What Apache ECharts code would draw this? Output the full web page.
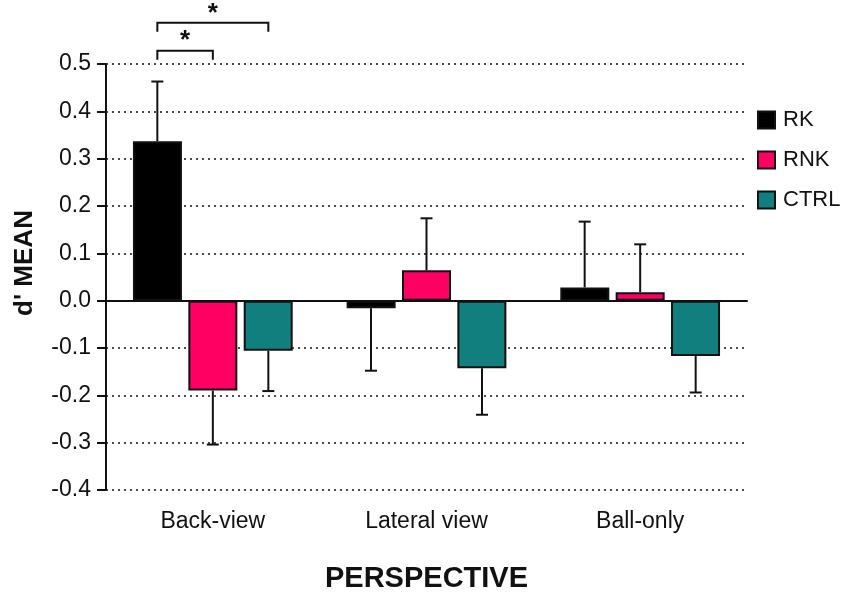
<!DOCTYPE html>
<html>
<head>
<meta charset="utf-8">
<script src="https://cdn.jsdelivr.net/npm/echarts@6/dist/echarts.min.js"></script>
<style>
  html, body { margin: 0; padding: 0; background: #fff; }
  #chart { width: 851px; height: 593px; }
</style>
</head>
<body>
<div id="chart"></div>
<script>
// perspectives on the x axis
const categories = ["Back-view", "Lateral view", "Ball-only"];

// group means (d') and SEM
const rkMean = [0.337, -0.016, 0.028];
const rkSem = [0.126, 0.132, 0.139];
const rnkMean = [-0.190, 0.064, 0.018];
const rnkSem = [0.114, 0.110, 0.101];
const ctrlMean = [-0.106, -0.143, -0.117];
const ctrlSem = [0.085, 0.098, 0.077];

// significance brackets: [category, from group, to group, foot value, top value, star value]
const brackets = [
  [0, 0, 1, 0.509, 0.528, 0.548],
  [0, 0, 2, 0.568, 0.587, 0.607],
];

const FONT = "'Liberation Sans', Arial, Helvetica, sans-serif";
const BAR_W = 49;
const STEP = 55.5; // distance between bar centers in a group
const offsets = [-STEP, 0, STEP];

function errorSeries(mean, sem, groupIdx) {
  return {
    type: "custom",
    name: "err" + groupIdx,
    z: 3,
    silent: true,
    clip: false,
    data: mean.map((m, i) => [i, m, m >= 0 ? m + sem[i] : m - sem[i]]),
    renderItem(params, api) {
      const base = api.coord([api.value(0), api.value(1)]);
      const end = api.coord([api.value(0), api.value(2)]);
      const x = base[0] + offsets[groupIdx];
      const st = { stroke: "#111", lineWidth: 2 };
      return {
        type: "group",
        children: [
          { type: "line", shape: { x1: x, y1: base[1], x2: x, y2: end[1] }, style: st },
          { type: "line", shape: { x1: x - 6, y1: end[1], x2: x + 6, y2: end[1] }, style: st },
        ],
      };
    },
  };
}

const chart = echarts.init(document.getElementById("chart"));

chart.setOption({
  backgroundColor: "#fff",
  animation: false,
  grid: { left: 106, right: 104, top: 64, bottom: 103, outerBoundsMode: "none", containLabel: false },
  legend: {
    data: ["RK", "RNK", "CTRL"],
    orient: "vertical",
    left: 757,
    top: 109,
    padding: 0,
    itemWidth: 17,
    itemHeight: 17,
    itemGap: 18,
    icon: "rect",
    textStyle: { fontFamily: FONT, fontSize: 22, color: "#111", padding: [0, 0, 0, 3] },
  },
  xAxis: {
    type: "category",
    data: categories,
    name: "PERSPECTIVE",
    nameLocation: "middle",
    nameGap: 74,
    nameTextStyle: { fontFamily: FONT, fontSize: 29, fontWeight: "bold", color: "#111" },
    axisLine: { lineStyle: { color: "#111", width: 2 } },
    axisTick: { alignWithLabel: true, length: 7, lineStyle: { color: "#111", width: 2 } },
    axisLabel: { fontFamily: FONT, fontSize: 23, color: "#111", margin: 20 },
  },
  yAxis: {
    type: "value",
    min: -0.4,
    max: 0.5,
    interval: 0.1,
    name: "d' MEAN",
    nameLocation: "middle",
    nameRotate: 90,
    nameGap: 68,
    nameTextStyle: { fontFamily: FONT, fontSize: 26, fontWeight: "bold", color: "#111", padding: [0, 0, 0, 28] },
    axisLine: { show: true, lineStyle: { color: "#111", width: 2 } },
    axisTick: { show: true, length: 9, lineStyle: { color: "#111", width: 2 } },
    axisLabel: {
      fontFamily: FONT,
      fontSize: 23,
      color: "#111",
      margin: 15,
      formatter: (v) => (Math.abs(v) < 1e-9 ? "0.0" : v.toFixed(1)),
    },
    splitLine: { show: true, lineStyle: { color: "#111", width: 1.5, type: [2, 4] } },
  },
  series: [
    {
      name: "RK",
      type: "bar",
      data: rkMean,
      barWidth: BAR_W,
      barGap: "13%",
      itemStyle: { color: "#000", borderColor: "#111", borderWidth: 2 },
      markLine: {
        silent: true,
        symbol: "none",
        label: { show: false },
        lineStyle: { color: "#111", width: 1.5, type: "solid" },
        data: [{ yAxis: 0 }],
      },
    },
    {
      name: "RNK",
      type: "bar",
      data: rnkMean,
      barWidth: BAR_W,
      barGap: "13%",
      itemStyle: { color: "#FF0062", borderColor: "#111", borderWidth: 2 },
    },
    {
      name: "CTRL",
      type: "bar",
      data: ctrlMean,
      barWidth: BAR_W,
      barGap: "13%",
      itemStyle: { color: "#107F7D", borderColor: "#111", borderWidth: 2 },
    },
    errorSeries(rkMean, rkSem, 0),
    errorSeries(rnkMean, rnkSem, 1),
    errorSeries(ctrlMean, ctrlSem, 2),
    {
      type: "custom",
      name: "sig",
      silent: true,
      clip: false,
      data: brackets,
      renderItem(params, api) {
        const cat = api.value(0);
        const foot = api.coord([cat, api.value(3)]);
        const top = api.coord([cat, api.value(4)]);
        const star = api.coord([cat, api.value(5)]);
        const x1 = foot[0] + offsets[api.value(1)];
        const x2 = foot[0] + offsets[api.value(2)];
        return {
          type: "group",
          children: [
            {
              type: "polyline",
              shape: { points: [[x1, foot[1]], [x1, top[1]], [x2, top[1]], [x2, foot[1]]] },
              style: { stroke: "#111", lineWidth: 2, fill: null },
            },
            {
              type: "text",
              style: {
                text: "*",
                x: (x1 + x2) / 2,
                y: star[1],
                align: "center",
                verticalAlign: "middle",
                fontFamily: FONT,
                fontSize: 26,
                fontWeight: "bold",
                fill: "#111",
              },
            },
          ],
        };
      },
    },
  ],
});
</script>
</body>
</html>
